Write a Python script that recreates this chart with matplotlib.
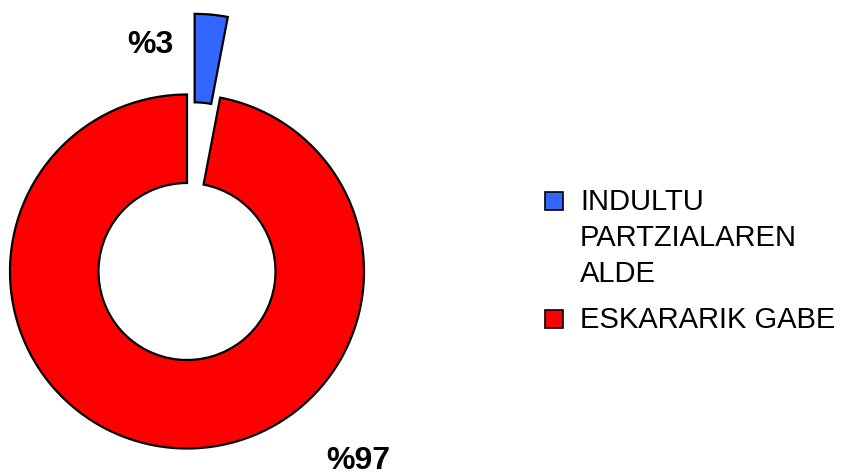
import matplotlib
matplotlib.use("Agg")
import matplotlib.pyplot as plt
from matplotlib.patches import Rectangle

plt.rcParams['font.family'] = ['Liberation Sans', 'DejaVu Sans']

# Share of requests
categories = ["INDULTU\nPARTZIALAREN\nALDE", "ESKARARIK GABE"]
values = [3, 97]
colors = ["#3366FF", "#FF0000"]

W, H = 846, 475
fig = plt.figure(figsize=(W / 100, H / 100), dpi=100)
ax = fig.add_axes([0, 0, 1, 1])

cx, cy, r = 187, H - 271.5, 177
explode = [81, 0]  # offset in the same units as the radius
wedges, _ = ax.pie(
    values, colors=colors, explode=explode, startangle=90, counterclock=False,
    center=(cx, cy), radius=r,
    wedgeprops=dict(width=r * 0.5, edgecolor="black", linewidth=1.6),
)
ax.set_xlim(0, W)
ax.set_ylim(0, H)
ax.set_aspect("equal")
ax.axis("off")

# Percentage labels
label_pos = [(150, H - 53), (358, H - 469)]
for v, (x, y) in zip(values, label_pos):
    ax.text(x, y, f"%{v}", ha="center", va="baseline", fontsize=23,
            fontweight="bold", color="black")

# Legend: square swatch beside the first line of each entry
legend_rows = [192, 310]   # top of each swatch (pixels from top)
line_step = 36
for cat, col, top in zip(categories, colors, legend_rows):
    ax.add_patch(Rectangle((545, H - top - 18), 18, 18, facecolor=col,
                           edgecolor="black", linewidth=1.2))
    for i, line in enumerate(cat.split("\n")):
        ax.text(580, H - (top + 18) - i * line_step, line, ha="left",
                va="baseline", fontsize=21, color="black")

fig.savefig("out.png", dpi=100)
